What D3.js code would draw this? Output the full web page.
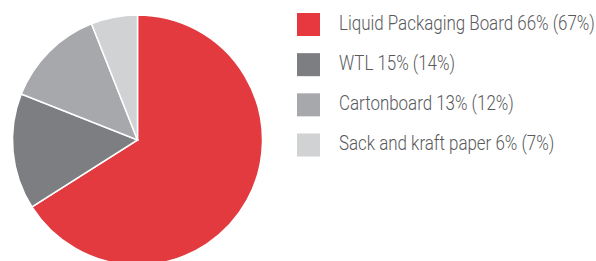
<!DOCTYPE html>
<html>
<head>
<meta charset="utf-8">
<script src="https://cdn.jsdelivr.net/npm/d3@7"></script>
<style>
  body { margin: 0; background: #fff; }
</style>
</head>
<body>
<svg id="chart" width="596" height="261"></svg>
<script>
const categories = ['Liquid Packaging Board', 'WTL', 'Cartonboard', 'Sack and kraft paper'];
const shares = [66, 15, 13, 6];
const priorShares = [67, 14, 12, 7];
const colors = ['#e23a3f', '#7d7e82', '#a7a8ab', '#d1d2d4'];
const legendColors = ['#e8383f', '#7d7e82', '#a7a8ab', '#d1d2d4'];

const CX = 137.5, CY = 140, R = 125;

const data = categories.map((c, i) => ({ name: c, value: shares[i], prior: priorShares[i] }));

const svg = d3.select('#chart');

const pie = d3.pie().sort(null).value(d => d.value);
const arc = d3.arc().innerRadius(0).outerRadius(R);

svg.append('g')
  .attr('transform', `translate(${CX},${CY})`)
  .attr('stroke', 'white')
  .attr('stroke-width', 1.5)
  .selectAll('path')
  .data(pie(data))
  .join('path')
  .attr('fill', (d, i) => colors[i])
  .attr('d', arc);

const y = d3.scalePoint().domain(categories).range([24.5, 145]);

const legend = svg.append('g')
  .selectAll('g')
  .data(data)
  .join('g')
  .attr('transform', d => `translate(297,${y(d.name)})`);

legend.append('rect')
  .attr('x', 0).attr('y', -11.5)
  .attr('width', 23).attr('height', 23)
  .attr('fill', (d, i) => legendColors[i]);

// condensed look: draw in Roboto Light, then squeeze horizontally
const labels = legend.append('g')
  .attr('transform', 'translate(42,0)')
  .append('text')
  .attr('y', 5)
  .attr('font-family', 'Roboto, sans-serif')
  .attr('font-weight', 300)
  .attr('font-size', 20)
  .attr('fill', '#58595b')
  .text(d => `${d.name} ${d.value}% (${d.prior}%)`);

const w0 = labels.node().getComputedTextLength();
const sx = 256 / w0;
labels.attr('transform', `scale(${sx},1)`);
</script>
</body>
</html>
